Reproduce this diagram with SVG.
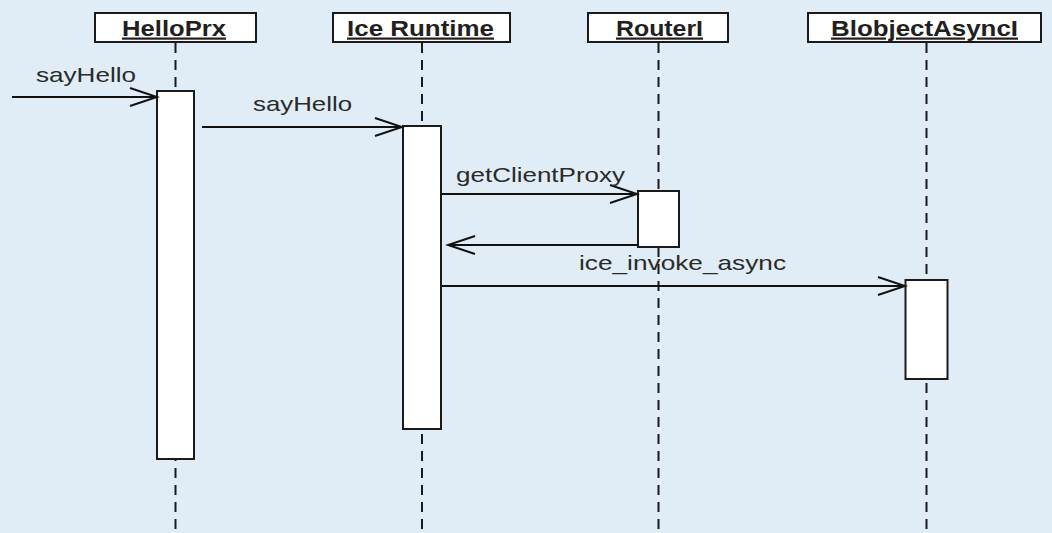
<svg xmlns="http://www.w3.org/2000/svg" width="1052" height="533" viewBox="0 0 1052 533">
  <style>
    .bg { fill: #e0edf6; }
    .head { fill: #ffffff; stroke: #1a1a1a; stroke-width: 2; }
    .act { fill: #ffffff; stroke: #1a1a1a; stroke-width: 2; }
    .life { stroke: #1a1a1a; stroke-width: 2; stroke-dasharray: 10 7; fill: none; }
    .title { font-family: "Liberation Sans", Arial, sans-serif; font-weight: bold; font-size: 22px; fill: #231f20; text-decoration: underline; }
    .label { font-family: "Liberation Sans", Arial, sans-serif; font-size: 21px; fill: #2a2a2a; }
    .msg { stroke: #111111; stroke-width: 2; fill: none; marker-end: url(#open); }
  </style>
  <defs>
    <marker id="open" markerUnits="userSpaceOnUse" markerWidth="32" markerHeight="24" refX="29" refY="12" orient="auto">
      <path d="M2,3 L29,12 L2,21" fill="none" stroke="#111111" stroke-width="2"/>
    </marker>
  </defs>

  <rect class="bg" x="0" y="0" width="1052" height="533"/>

  <!-- lifelines -->
  <g id="lifelines">
    <line class="life" x1="175.5" y1="43" x2="175.5" y2="533"/>
    <line class="life" x1="422" y1="43" x2="422" y2="533"/>
    <line class="life" x1="658.5" y1="43" x2="658.5" y2="533"/>
    <line class="life" x1="926.5" y1="43" x2="926.5" y2="533"/>
  </g>

  <g id="helloprx">
    <rect class="head" x="95" y="13" width="161" height="29"/>
    <text class="title" x="122" y="35.5" textLength="104" lengthAdjust="spacingAndGlyphs">HelloPrx</text>
    <rect class="act" x="157" y="91" width="37" height="368"/>
  </g>

  <g id="ice-runtime">
    <rect class="head" x="333" y="13" width="177" height="29"/>
    <text class="title" x="347" y="35.5" textLength="147" lengthAdjust="spacingAndGlyphs">Ice Runtime</text>
    <rect class="act" x="403" y="126" width="38" height="303"/>
  </g>

  <g id="routeri">
    <rect class="head" x="588" y="13" width="140" height="29"/>
    <text class="title" x="616" y="35.5" textLength="87" lengthAdjust="spacingAndGlyphs">RouterI</text>
    <rect class="act" x="638" y="191" width="41" height="56"/>
  </g>

  <g id="blobjectasynci">
    <rect class="head" x="808" y="13" width="233" height="29"/>
    <text class="title" x="831" y="35.5" textLength="187" lengthAdjust="spacingAndGlyphs">BlobjectAsyncI</text>
    <rect class="act" x="905.5" y="280" width="42" height="99"/>
  </g>

  <!-- messages -->
  <g id="connectors">
    <line class="msg" x1="12" y1="97" x2="157" y2="97"/>
    <line class="msg" x1="202" y1="127" x2="402" y2="127"/>
    <line class="msg" x1="441" y1="194" x2="637" y2="194"/>
    <line class="msg" x1="638" y1="245" x2="448" y2="245"/>
    <line class="msg" x1="442" y1="286" x2="905" y2="286"/>
  </g>

  <g id="labels">
    <text class="label" x="36" y="82" textLength="100" lengthAdjust="spacingAndGlyphs">sayHello</text>
    <text class="label" x="253" y="111" textLength="99" lengthAdjust="spacingAndGlyphs">sayHello</text>
    <text class="label" x="456" y="182" textLength="169" lengthAdjust="spacingAndGlyphs">getClientProxy</text>
    <text class="label" x="579" y="270" textLength="207" lengthAdjust="spacingAndGlyphs">ice_invoke_async</text>
  </g>
</svg>
